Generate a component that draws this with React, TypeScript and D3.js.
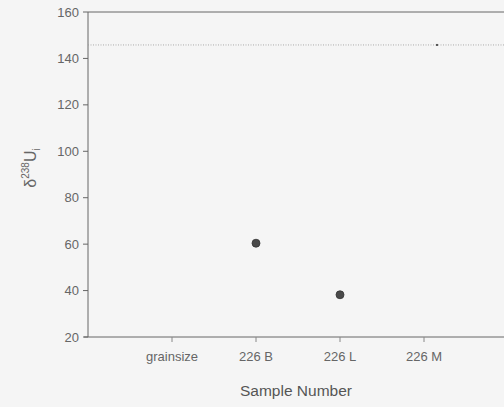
import React from "react";
import * as d3 from "d3";

const categories = ["grainsize", "226 B", "226 L", "226 M"];
const sampleNames = ["226 B", "226 L"];
const sampleValues = [60.4, 38.2];
const refLineValue = 145.8;
const yTicks = [20, 40, 60, 80, 100, 120, 140, 160];

export default function App() {
  const W = 504, H = 407;
  const left = 88, top = 12, bottom = 337;
  const x = d3.scaleLinear().domain([0, 5]).range([left, left + 84 * 5]);
  const xPos = (c: string) => x(categories.indexOf(c) + 1);
  const y = d3.scaleLinear().domain([20, 160]).range([bottom, top]);
  const col = "#666";
  const font = "'Liberation Sans', Arial, sans-serif";
  return (
    <svg width={W} height={H} style={{ position: "absolute", left: 0, top: 0, background: "#f5f5f5" }}>
      <rect x={0} y={0} width={W} height={H} fill="#f5f5f5" />
      {/* frame */}
      <line x1={left} x2={W} y1={y(160)} y2={y(160)} stroke="#666" strokeWidth={1} />
      <line x1={left} x2={left} y1={top} y2={bottom} stroke="#666" strokeWidth={1} />
      <line x1={left - 4} x2={W} y1={bottom} y2={bottom} stroke="#666" strokeWidth={1} />
      {/* reference dotted line */}
      <line x1={left} x2={W} y1={y(refLineValue)} y2={y(refLineValue)} stroke="#999" strokeWidth={0.8} strokeDasharray="1,1.5" />
      <rect x={436} y={y(refLineValue) - 1} width={2} height={2} fill="#555" />
      {/* y ticks */}
      {yTicks.map((t) => (
        <g key={t}>
          <line x1={left - 5} x2={left} y1={y(t)} y2={y(t)} stroke="#666" />
          <text x={left - 9} y={y(t)} dy="0.35em" textAnchor="end" fontFamily={font} fontSize={13} fill={col}>
            {t}
          </text>
        </g>
      ))}
      {/* x ticks */}
      {categories.map((c) => (
        <g key={c}>
          <line x1={xPos(c)} x2={xPos(c)} y1={bottom} y2={bottom + 5} stroke="#888" />
          <text x={xPos(c)} y={bottom + 24} textAnchor="middle" fontFamily={font} fontSize={13} fill={col}>
            {c}
          </text>
        </g>
      ))}
      {/* points */}
      {sampleNames.map((n, i) => (
        <circle key={n} cx={xPos(n)} cy={y(sampleValues[i])} r={4} fill="#4a4a4a" stroke="#333" strokeWidth={0.8} />
      ))}
      {/* axis labels */}
      <text x={296} y={396} textAnchor="middle" fontFamily={font} fontSize={15.5} fill="#555">
        Sample Number
      </text>
      <text transform="translate(36,168) rotate(-90)" textAnchor="middle" fontFamily={font} fontSize={16} fill="#666">
        δ<tspan dy={-7} fontSize={10}>238</tspan>
        <tspan dy={7}>U</tspan>
        <tspan dy={4} fontSize={10}>i</tspan>
      </text>
    </svg>
  );
}
